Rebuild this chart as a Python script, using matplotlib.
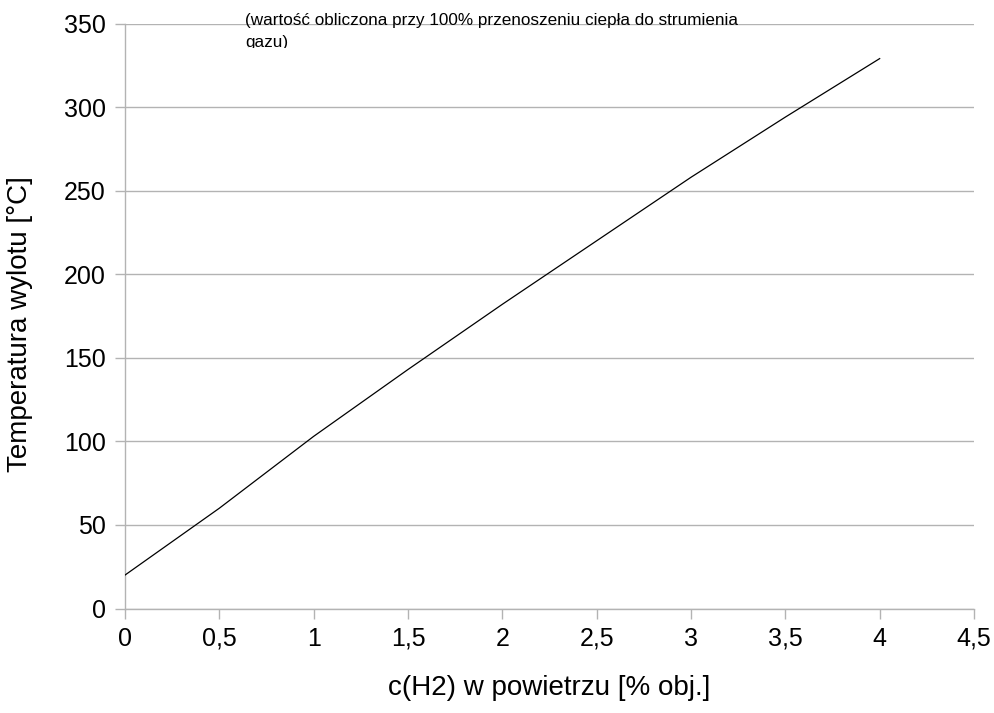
import matplotlib
matplotlib.use("Agg")
import matplotlib.pyplot as plt
from matplotlib.transforms import Bbox, TransformedBbox

plt.rcParams['font.family'] = ['Liberation Sans', 'DejaVu Sans']

# Hydrogen concentration in air [% vol.] and resulting outlet temperature [°C]
conc_h2 = [0.0, 0.5, 1.0, 1.5, 2.0, 2.5, 3.0, 3.5, 4.0]
temp_out = [20, 60, 103, 143, 182, 220, 258, 294, 329]

x_ticks = [0, 0.5, 1, 1.5, 2, 2.5, 3, 3.5, 4, 4.5]
x_tick_labels = ["0", "0,5", "1", "1,5", "2", "2,5", "3", "3,5", "4", "4,5"]
y_ticks = [0, 50, 100, 150, 200, 250, 300, 350]

W, H = 995, 713
fig = plt.figure(figsize=(W / 100, H / 100), dpi=100)
ax = fig.add_axes([125 / W, 1 - 608.5 / H, (974 - 125) / W, (608.5 - 23.5) / H])

grid_col = "#b3b3b3"
ax.plot(conc_h2, temp_out, color="black", lw=0.9, zorder=3)

ax.set_xlim(0, 4.5)
ax.set_ylim(0, 350)
ax.set_xticks(x_ticks)
ax.set_xticklabels(x_tick_labels)
ax.set_yticks(y_ticks)
ax.yaxis.grid(True, color=grid_col, lw=1.0)
ax.set_axisbelow(True)

for side in ("top", "right"):
    ax.spines[side].set_visible(False)
for side in ("left", "bottom"):
    ax.spines[side].set_color(grid_col)
    ax.spines[side].set_linewidth(1.0)

ax.tick_params(axis="both", colors=grid_col, length=7.5, width=1.0,
               labelcolor="black", labelsize=18)
ax.tick_params(axis="y", pad=6.5)
ax.tick_params(axis="x", pad=5.5)

# axis titles
fig.text(549.5 / W, 1 - 688 / H, "c(H2) w powietrzu [% obj.]", fontsize=20,
         ha="center", va="center")
fig.text(20 / W, 1 - 324 / H, "Temperatura wylotu [°C]", fontsize=20,
         rotation=90, ha="center", va="center")

note = fig.text(245 / W, 1 - 13.5 / H,
                "(wartość obliczona przy 100% przenoszeniu ciepła do strumienia\ngazu)",
                fontsize=12.3, ha="left", va="top", linespacing=1.55, zorder=5)
note.set_clip_box(TransformedBbox(Bbox.from_extents(0, 1 - 48 / H, 1, 1), fig.transFigure))

fig.savefig("out.png", dpi=100)
